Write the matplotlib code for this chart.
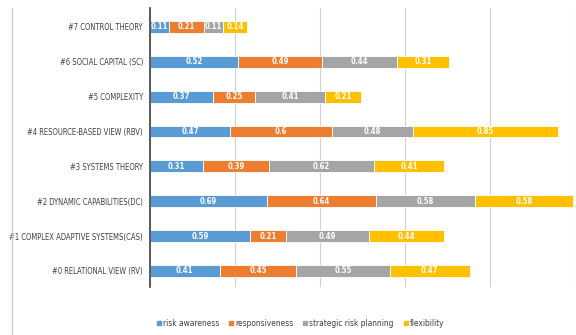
import numpy as np
import matplotlib.pyplot as plt
from matplotlib.lines import Line2D

plt.rcParams['font.family'] = ['DejaVu Sans']
plt.rcParams['font.stretch'] = 'condensed'

theories = [
    "#0 RELATIONAL VIEW (RV)",
    "#1 COMPLEX ADAPTIVE SYSTEMS(CAS)",
    "#2 DYNAMIC CAPABILITIES(DC)",
    "#3 SYSTEMS THEORY",
    "#4 RESOURCE-BASED VIEW (RBV)",
    "#5 COMPLEXITY",
    "#6 SOCIAL CAPITAL (SC)",
    "#7 CONTROL THEORY",
]
series_names = ["risk awareness", "responsiveness", "strategic risk planning", "flexibility"]
risk_awareness = [0.41, 0.59, 0.69, 0.31, 0.47, 0.37, 0.52, 0.11]
responsiveness = [0.45, 0.21, 0.64, 0.39, 0.60, 0.25, 0.49, 0.21]
strategic_risk_planning = [0.55, 0.49, 0.58, 0.62, 0.48, 0.41, 0.44, 0.11]
flexibility = [0.47, 0.44, 0.58, 0.41, 0.85, 0.21, 0.31, 0.14]
colors = ["#5B9BD5", "#ED7D31", "#A5A5A5", "#FFC000"]

fig = plt.figure(figsize=(5.76, 3.35), dpi=100)
ax = fig.add_axes([150 / 576, 48 / 335, 425 / 576, 279 / 335])

y = np.arange(len(theories))
left = np.zeros(len(theories))
for name, vals, c in zip(series_names,
                         [risk_awareness, responsiveness, strategic_risk_planning, flexibility],
                         colors):
    vals = np.array(vals)
    ax.barh(y, vals, left=left, height=0.34, color=c, edgecolor="white", linewidth=0.6)
    for yi, l, v in zip(y, left, vals):
        ax.text(l + v / 2, yi, f"{v:g}", ha="center", va="center",
                color="white", fontsize=5.6, fontweight="bold")
    left += vals

ax.set_xlim(0, 2.5)
ax.set_ylim(-0.46, 7.54)
ax.set_xticks(np.arange(0, 2.51, 0.5))
ax.xaxis.set_ticklabels([])
ax.tick_params(axis="x", length=0)
ax.tick_params(axis="y", length=0, pad=5)
ax.set_yticks(y)
ax.set_yticklabels(theories, fontsize=5.5, color="#404040")
ax.grid(axis="x", color="#D0D0D0", linewidth=0.8)
ax.set_axisbelow(True)
for s in ["top", "right", "bottom"]:
    ax.spines[s].set_visible(False)
ax.spines["left"].set_color("#404040")
ax.spines["left"].set_linewidth(1.2)

# chart area border on the left
fig.add_artist(Line2D([12 / 576, 12 / 576], [0, 327 / 335], color="#C8C8C8", linewidth=0.9))

handles = [Line2D([], [], marker="s", linestyle="", markersize=3.0, color=c) for c in colors]
fig.legend(handles, series_names, loc="center", bbox_to_anchor=(300 / 576, 12 / 335),
           ncol=4, frameon=False, fontsize=6.0, handletextpad=0.1, columnspacing=1.0,
           handlelength=0.8, labelcolor="#404040")

fig.savefig("out.png", dpi=100)
